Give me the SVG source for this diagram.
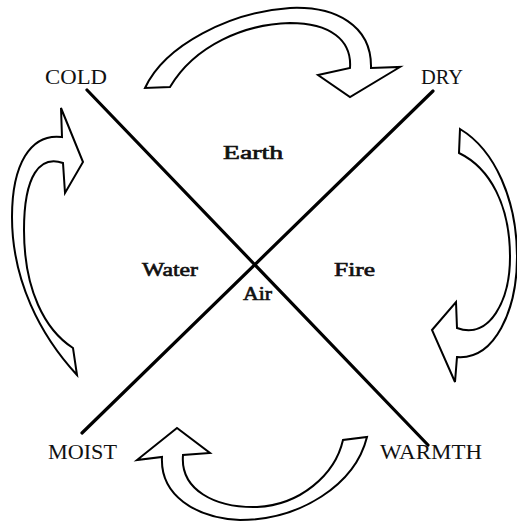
<svg xmlns="http://www.w3.org/2000/svg" width="517" height="527" viewBox="0 0 517 527">
<style>
.qual{font-family:"Liberation Serif",serif;font-size:21px;fill:#111}
.elem{font-family:"Liberation Serif",serif;font-size:18px;fill:#111;stroke:#111;stroke-width:0.6}
.arrow{fill:#fff;stroke:#000;stroke-width:2;stroke-linejoin:miter}
.axis{stroke:#000;stroke-width:3.2;stroke-linecap:round;fill:none}
</style>
<rect width="517" height="527" fill="#fff"/>
<g id="connectors">
<path class="axis" d="M87,90 L428,445"/>
<path class="axis" d="M433,91 L82,433"/>
<path id="arrow-top" class="arrow" d="M145,88 C165,45 230,12 290,8 C335,6 372,25 371,68 L400,67 L350,97 L318,75 L350,68 C352,40 330,23 290,23 C245,24 195,45 170,87 Z"/>
<path id="arrow-right" class="arrow" d="M460,129 C495,150 517,200 517,257 C517,310 495,360 457,357 L455,382 L432,330 L456,302 L457,328 C490,340 510,300 510,257 C510,205 490,168 459,153 Z"/>
<path id="arrow-bottom" class="arrow" d="M367,437 C355,485 300,520 240,520 C195,518 160,495 162,457 L137,460 L177,428 L210,453 L183,455 C180,490 215,508 257,507 C300,505 335,475 343,440 Z"/>
<path id="arrow-left" class="arrow" d="M77,375 C40,335 12,280 12,217 C12,165 30,133 62,137 L61,108 L83,162 L65,193 L63,163 C40,155 24,175 24,230 C24,290 45,330 73,348 Z"/>
</g>
<g id="cold"><text class="qual" x="45" y="84" textLength="62" lengthAdjust="spacingAndGlyphs">COLD</text></g>
<g id="dry"><text class="qual" x="421" y="84" textLength="42" lengthAdjust="spacingAndGlyphs">DRY</text></g>
<g id="moist"><text class="qual" x="48" y="459" textLength="69" lengthAdjust="spacingAndGlyphs">MOIST</text></g>
<g id="warmth"><text class="qual" x="380" y="459" textLength="102" lengthAdjust="spacingAndGlyphs">WARMTH</text></g>
<g id="earth"><text class="elem" x="223" y="159" textLength="60" lengthAdjust="spacingAndGlyphs">Earth</text></g>
<g id="water"><text class="elem" x="142" y="276" textLength="56" lengthAdjust="spacingAndGlyphs">Water</text></g>
<g id="fire"><text class="elem" x="334" y="276" textLength="41" lengthAdjust="spacingAndGlyphs">Fire</text></g>
<g id="air"><text class="elem" x="243" y="300" textLength="29" lengthAdjust="spacingAndGlyphs">Air</text></g>
</svg>
